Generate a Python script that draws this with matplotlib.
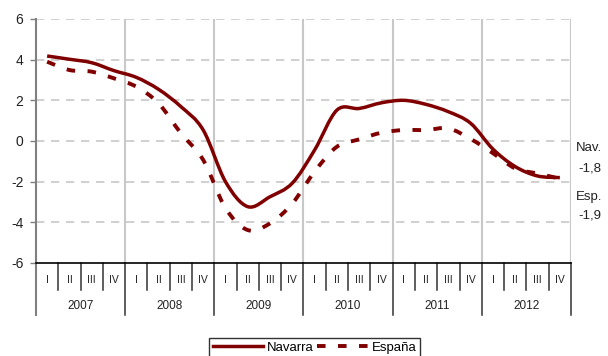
import numpy as np
import matplotlib
matplotlib.use("Agg")
import matplotlib.pyplot as plt
from matplotlib.path import Path
from matplotlib.patches import PathPatch
from matplotlib.lines import Line2D

plt.rcParams['font.family'] = ['Liberation Sans', 'DejaVu Sans']

years = ['2007', '2008', '2009', '2010', '2011', '2012']
quarters = ['I', 'II', 'III', 'IV']
navarra = [4.18, 4.02, 3.85, 3.46, 3.13, 2.54, 1.69, 0.54,
           -2.0, -3.23, -2.74, -2.07, -0.44, 1.52, 1.6, 1.88,
           2.0, 1.8, 1.44, 0.87, -0.4, -1.26, -1.72, -1.8]
espana = [3.9, 3.49, 3.41, 3.08, 2.67, 1.85, 0.38, -0.93,
          -3.3, -4.38, -4.05, -3.07, -1.5, -0.28, 0.08, 0.41,
          0.54, 0.54, 0.62, 0.1, -0.6, -1.35, -1.6, -1.85]
end_labels = [('Nav.', '-1,8'), ('Esp.', '-1,9')]
yticks = [6, 4, 2, 0, -2, -4, -6]

W, H = 608, 356
fig = plt.figure(figsize=(W / 100, H / 100), dpi=100)
L, R, T, B = 36, 571, 19, 263
ax = fig.add_axes([L / W, (H - B) / H, (R - L) / W, (B - T) / H])

n = len(navarra)
x = np.arange(n)
ax.set_xlim(-0.5, n - 0.5)
ax.set_ylim(-6, 6)

color = '#800000'
grid_c = '#c8c8c8'


def smooth_path(xs, ys):
    xs = np.asarray(xs, float)
    ys = np.asarray(ys, float)
    pts = np.column_stack([xs, ys])
    verts = [pts[0]]
    codes = [Path.MOVETO]
    for i in range(len(pts) - 1):
        p0 = pts[i - 1] if i > 0 else pts[i]
        p1 = pts[i]
        p2 = pts[i + 1]
        p3 = pts[i + 2] if i + 2 < len(pts) else pts[i + 1]
        c1 = p1 + (p2 - p0) / 6.0
        c2 = p2 - (p3 - p1) / 6.0
        verts += [c1, c2, p2]
        codes += [Path.CURVE4] * 3
    return Path(verts, codes)


# grid
for yv in yticks[:-1]:
    ax.axhline(yv, color=grid_c, lw=1.2, ls=(0, (5, 4)), zorder=1)
for k in range(1, len(years) + 1):
    ax.axvline(4 * k - 0.5, color=grid_c, lw=1.5, zorder=1)

ax.add_patch(PathPatch(smooth_path(x, navarra), fill=False, edgecolor=color,
                       lw=2.5, capstyle='butt', joinstyle='round', zorder=3))
ax.add_patch(PathPatch(smooth_path(x, espana), fill=False, edgecolor=color,
                       lw=2.8, ls=(0, (2.2, 3.2)), capstyle='butt', zorder=3))

# spines
for s in ['top', 'right', 'bottom', 'left']:
    ax.spines[s].set_visible(False)
trans = ax.get_xaxis_transform()
ax.plot([-0.5, -0.5], [-0.213, 1], transform=trans, color='#808080', lw=1.5,
        clip_on=False, zorder=4)
ax.plot([-0.5, n - 0.5], [0, 0], transform=trans, color='black', lw=1.2,
        clip_on=False, zorder=4)

ax.set_xticks([])
ax.set_yticks(yticks)
ax.set_yticklabels([str(v) for v in yticks])
ax.tick_params(axis='y', length=4, width=1, color='#808080', pad=5,
               labelsize=10, labelcolor='#222222')

# category axis
for i in range(n):
    xb = i + 0.5
    if (i + 1) % 4 == 0:
        ax.plot([xb, xb], [0, -0.213], transform=trans, color='#333333', lw=1.1,
                clip_on=False)
    else:
        ax.plot([xb, xb], [0, -0.111], transform=trans, color='#333333', lw=1.1,
                clip_on=False)
    ax.text(i, -0.07, quarters[i % 4], transform=trans, ha='center', va='center',
            fontsize=7.5, color='#222222')
for k, yr in enumerate(years):
    ax.text(4 * k + 1.5, -0.176, yr, transform=trans, ha='center', va='center',
            fontsize=8.5, color='#222222')

# end labels
positions = [(576, 148, 578, 168), (576, 197, 578, 215)]
for (a, b), (x1, y1, x2, y2) in zip(end_labels, positions):
    fig.text(x1 / W, 1 - y1 / H, a, ha='left', va='center', fontsize=9.5, color='#222222')
    fig.text(x2 / W, 1 - y2 / H, b, ha='left', va='center', fontsize=9.5, color='#222222')

handles = [Line2D([], [], color=color, lw=2.5),
           Line2D([], [], color=color, lw=2.8, ls=(0, (2.2, 3.2)))]
leg = fig.legend(handles, ['Navarra', 'España'], loc='lower center',
                 bbox_to_anchor=(314.5 / W, -0.005), ncol=2, frameon=True,
                 fancybox=False, edgecolor='black', fontsize=9.5,
                 handlelength=3.8, handletextpad=0.3, columnspacing=0.3,
                 borderpad=0.3, borderaxespad=0.0)
leg.get_frame().set_linewidth(1.0)

fig.savefig('out.png', dpi=100)
